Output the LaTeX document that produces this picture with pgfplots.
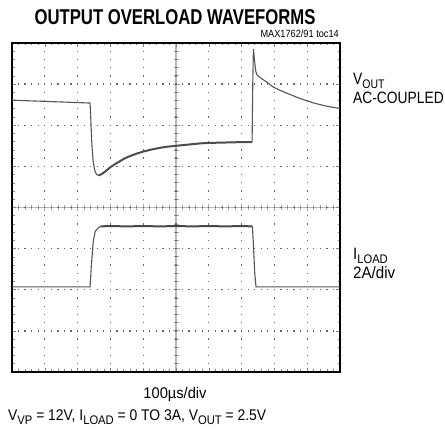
\documentclass[border=0pt]{standalone}
\usepackage{pgfplots}
\pgfplotsset{compat=1.18}
\usepackage{fontspec}
\setmainfont{Liberation Sans}
\newcommand\nar[2][0.8]{\scalebox{#1}[1]{#2}}
\newcommand\sub[1]{\raisebox{-0.22em}{\fontsize{12.5}{12.5}\selectfont #1}}
\definecolor{trace}{gray}{0.33}
\begin{document}
\begin{tikzpicture}[x=1bp,y=1bp]
\path[use as bounding box] (0,0) rectangle (445,435);
% center axes overlay (background)
\begin{axis}[
  at={(12bp,63bp)}, anchor=south west, scale only axis,
  width=328bp, height=329bp,
  xmin=-5, xmax=5, ymin=-4, ymax=4,
  axis lines=middle,
  axis line style={-, line width=1.6pt, black!28},
  xtick={-5,...,5}, ytick={-4,...,4},
  minor x tick num=4, minor y tick num=4,
  tick align=center,
  major tick length=7bp, minor tick length=5bp,
  every tick/.style={black!35, line width=0.8pt},
  xticklabels={}, yticklabels={},
]
\addplot[draw=none, forget plot] coordinates {(0,0)};
\end{axis}
\begin{axis}[
  at={(12bp,63bp)}, anchor=south west, scale only axis,
  width=328bp, height=329bp,
  xmin=0, xmax=10, ymin=0, ymax=8,
  xtick={0,...,10}, ytick={0,...,8},
  minor x tick num=4, minor y tick num=4,
  xticklabels={}, yticklabels={},
  tick align=inside,
  major tick length=4bp, minor tick length=2.5bp,
  every tick/.style={black!50, line width=0.6pt},
  grid=major,
  x grid style={black!60, line width=1.3pt, dash pattern=on 1.3bp off 6.925bp, dash phase=0.65bp},
  y grid style={black!60, line width=1.3pt, dash pattern=on 1.3bp off 5.26bp, dash phase=0.65bp},
  axis line style={black, line width=1.7pt},
  clip=true,
]
% V_OUT (AC-coupled), divisions
\addplot[trace, line width=1.1pt] coordinates {
 (0,6.61) (2.38,6.54) (2.40,6.2) (2.43,5.6) (2.47,5.15) (2.52,4.9) (2.58,4.8) (2.65,4.78)
};
\addplot[black!70, line width=2.0pt] coordinates {
 (2.65,4.78) (2.75,4.82) (2.85,4.88) (3.0,4.98) (3.15,5.06) (3.3,5.13) (3.45,5.2) (3.6,5.25)
 (3.8,5.31) (4.0,5.36) (4.25,5.41) (4.5,5.45) (4.75,5.48) (5.0,5.5) (5.25,5.52) (5.5,5.54)
 (5.75,5.56) (6.0,5.57) (6.5,5.58) (7.0,5.59) (7.32,5.59)
};
\addplot[trace, line width=1.1pt] coordinates {
 (7.32,5.59) (7.34,7.0) (7.36,7.85) (7.39,7.6) (7.43,7.32) (7.47,7.22) (7.6,7.14) (7.8,7.03)
 (7.96,6.93) (8.2,6.84) (8.5,6.74) (8.75,6.66) (9.0,6.59) (9.25,6.53) (9.5,6.48) (9.75,6.44) (10,6.41)
};
% I_LOAD, divisions
\addplot[trace, line width=1.1pt] coordinates {
 (0,2.07) (2.38,2.07) (2.42,2.6) (2.48,3.2) (2.54,3.42) (2.62,3.5) (2.7,3.54)
};
\addplot[black!72, line width=2.0pt] coordinates {
 (2.7,3.54) (3.0,3.55) (3.5,3.54) (4.0,3.55) (4.5,3.54) (5.0,3.55) (5.5,3.54) (6.0,3.55)
 (6.5,3.54) (7.0,3.55) (7.33,3.54)
};
\addplot[trace, line width=1.1pt] coordinates {
 (7.33,3.54) (7.36,3.1) (7.40,2.4) (7.44,2.07) (10,2.07)
};
\end{axis}
% texts
\node[anchor=base, inner sep=0] at (175,410) {\nar[0.78]{\fontsize{21.5}{21.5}\selectfont\bfseries OUTPUT OVERLOAD WAVEFORMS}};
\node[anchor=base east, inner sep=0] at (339,397) {\nar[0.88]{\fontsize{10.5}{10.5}\selectfont MAX1762/91 toc14}};
\node[anchor=base west, inner sep=0] at (353,350) {\nar[0.84]{\fontsize{16.5}{16.5}\selectfont V\sub{OUT}}};
\node[anchor=base west, inner sep=0] at (353,331) {\nar[0.84]{\fontsize{16.5}{16.5}\selectfont AC-COUPLED}};
\node[anchor=base west, inner sep=0] at (353,175) {\nar[0.9]{\fontsize{16.5}{16.5}\selectfont I\sub{LOAD}}};
\node[anchor=base west, inner sep=0] at (353,156) {\nar[0.92]{\fontsize{16.5}{16.5}\selectfont 2A/div}};
\node[anchor=base, inner sep=0] at (175,36) {\nar[0.95]{\fontsize{15.5}{15.5}\selectfont 100µs/div}};
\node[anchor=base west, inner sep=0] at (8,14) {\nar[0.9]{\fontsize{15.5}{15.5}\selectfont V\sub{VP} = 12V, I\sub{LOAD} = 0 TO 3A, V\sub{OUT} = 2.5V}};
\end{tikzpicture}
\end{document}
